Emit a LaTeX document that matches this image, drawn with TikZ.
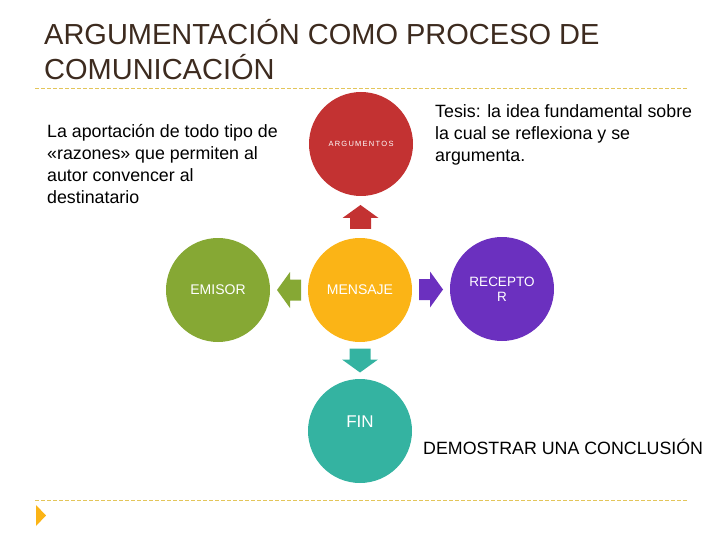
\documentclass[tikz,border=0pt]{standalone}
\usepackage{fontspec}
\setmainfont{Liberation Sans}
\usetikzlibrary{positioning,calc}

\definecolor{titlebrown}{HTML}{3D2B1F}
\definecolor{rulegold}{HTML}{E3C55A}
\definecolor{argred}{HTML}{C33232}
\definecolor{msgyellow}{HTML}{FBB416}
\definecolor{emigreen}{HTML}{86A834}
\definecolor{recpurple}{HTML}{6B30BF}
\definecolor{finteal}{HTML}{34B3A1}

\tikzset{
  bubble/.style={circle, minimum size=104pt, inner sep=0pt, text=white, font=\fontsize{14}{16}\selectfont},
  note/.style={anchor=north west, align=left, inner sep=0pt, font=\fontsize{17.8}{22}\selectfont},
  goldrule/.style={rulegold, line width=0.8pt, dash pattern=on 4pt off 2pt},
  blockarrow/.pic={
    \fill (-12,-10.5) -- (-1,-10.5) -- (-1,-18) -- (12,0) -- (-1,18) -- (-1,10.5) -- (-12,10.5) -- cycle;
  }
}

\begin{document}
\begin{tikzpicture}[x=1pt, y=-1pt]
  \useasboundingbox (0,0) rectangle (720,540);

  % Title
  \node[anchor=north west, align=left, inner sep=0pt, text=titlebrown,
        font=\fontsize{29}{35}\selectfont] (title) at (44,19)
        {ARGUMENTACIÓN COMO PROCESO DE\\COMUNICACIÓN};
  \draw[goldrule] (35,88) -- (688,88);
  \draw[goldrule] (35,500) -- (688,500);
  \fill[msgyellow] (36,505) -- (46,515.5) -- (36,526) -- cycle;

  % Circles
  \node[bubble, fill=msgyellow] (mensaje) at (360,290) {MENSAJE};
  \node[bubble, fill=argred, font=\fontsize{7.5}{9}\selectfont] (argumentos) at (361,144) {A\,R\,G\,U\,M\,E\,N\,T\,O\,S};
  \node[bubble, fill=emigreen] (emisor) at (218,290) {EMISOR};
  \node[bubble, fill=recpurple, align=center, font=\fontsize{13.5}{15}\selectfont] (receptor) at (502,289) {RECEPTO\\R};
  \node[bubble, fill=finteal] (fin) at (360,431) {};
  \node[text=white, font=\fontsize{17}{20}\selectfont] (fintext) at (360,422) {FIN};

  % Block arrows between the circles
  \path ($(mensaje.north)!0.5!(argumentos.south)$) pic[argred, rotate=90] {blockarrow};
  \path ($(mensaje.west)!0.5!(emisor.east)$) pic[emigreen, rotate=180] {blockarrow};
  \path ($(mensaje.east)!0.5!(receptor.west)$) pic[recpurple] {blockarrow};
  \path ($(mensaje.south)!0.5!(fin.north)$) pic[finteal, rotate=-90] {blockarrow};

  % Texts
  \node[note] (aporte) at (47,124)
    {La aportación de todo tipo de\\«razones» que permiten al\\autor convencer al\\destinatario};
  \node[note] (tesis) at (435,104)
    {Tesis: la idea fundamental sobre\\la cual se reflexiona y se\\argumenta.};
  \node[anchor=west, inner sep=0pt, font=\fontsize{17.8}{20}\selectfont] (conclusion) at (423,447)
    {DEMOSTRAR UNA CONCLUSIÓN};
\end{tikzpicture}
\end{document}
